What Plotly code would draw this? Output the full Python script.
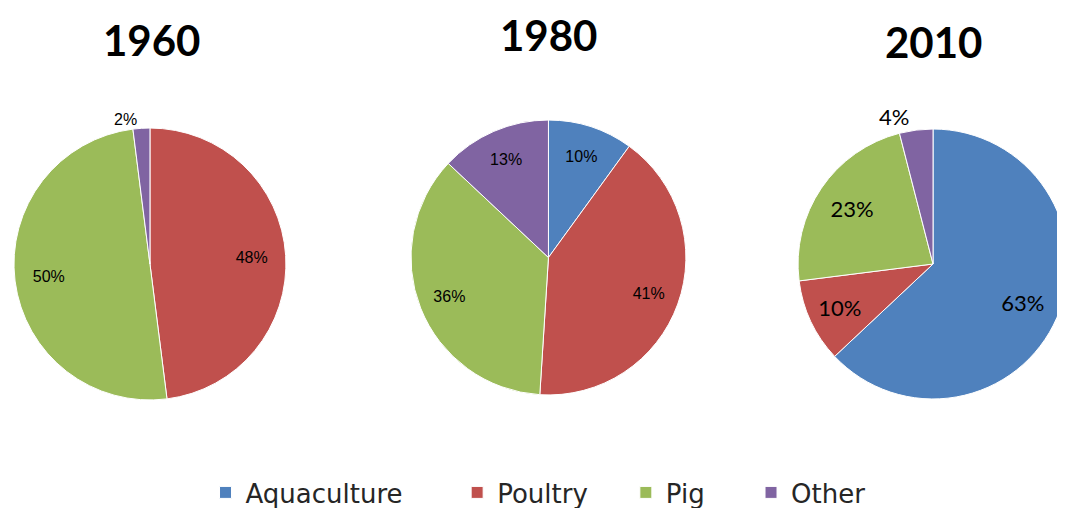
import plotly.graph_objects as go

categories = ["Aquaculture", "Poultry", "Pig", "Other"]
years = ["1960", "1980", "2010"]
values_1960 = [0, 48, 50, 2]
values_1980 = [10, 41, 36, 13]
values_2010 = [63, 10, 23, 4]

colors = ["#4F81BD", "#C0504D", "#9BBB59", "#8064A2"]

# the page body has an 8px margin; the figure keeps the full window size
# (the excess falls outside the photographed window, like the clipped 2010 pie)
W, H = 1065, 508
OFF = 8  # screen = figure + OFF

def px_dom(left, right, top, bottom):
    """domain from a screen-pixel box"""
    l, r, t, b = left - OFF, right - OFF, top - OFF, bottom - OFF
    return dict(x=[max(0, l / W), min(1, r / W)],
                y=[max(0, 1 - b / H), min(1, 1 - t / H)])

# legend spacing (non-breaking spaces pad the gap after each entry)
legend_pad = [6, 4, 5, 0]
legend_labels = [c + "\u00a0" * p for c, p in zip(categories, legend_pad)]

specs = [
    # values, domain, outside flags, label font, hole used for label ring
    (values_1960, px_dom(10, 284, 128, 400), [False, False, False, True],
     dict(family="Liberation Sans, Arial", size=16, color="#000000"), 0.5),
    (values_1980, px_dom(410, 687, 119, 396), [False, False, False, False],
     dict(family="Liberation Sans, Arial", size=16, color="#000000"), 0.55),
    (values_2010, px_dom(800, 1072, 128, 400), [False, False, False, True],
     dict(family="Lato", size=22, color="#000000"), 0.45),
]

fig = go.Figure()

for i, (vals, dom, outside, tfont, hole) in enumerate(specs):
    pct = ["" if v == 0 else f"{v}%" for v in vals]
    # base pie: coloured slices and outside labels
    fig.add_trace(go.Pie(
        labels=legend_labels,
        values=vals,
        sort=False,
        direction="clockwise",
        rotation=0,
        domain=dom,
        marker=dict(colors=colors, line=dict(color="#FFFFFF", width=1)),
        text=[t if o else "" for t, o in zip(pct, outside)],
        textinfo="text",
        textposition=["outside" if o else "none" for o in outside],
        textfont=tfont,
        hoverinfo="label+percent",
        showlegend=(i == 0),
        name=years[i],
    ))
    # transparent ring on top: places the inside labels further out
    fig.add_trace(go.Pie(
        labels=legend_labels,
        values=vals,
        sort=False,
        direction="clockwise",
        rotation=0,
        hole=hole,
        domain=dom,
        marker=dict(colors=["rgba(0,0,0,0)"] * 4, line=dict(width=0)),
        text=["" if o else t for t, o in zip(pct, outside)],
        textinfo="text",
        textposition=["none" if o else "inside" for o in outside],
        insidetextorientation="horizontal",
        textfont=tfont,
        hoverinfo="skip",
        showlegend=False,
        name=years[i] + " labels",
    ))

# title centres in screen pixels (None: pinned to the top edge)
title_pos = [(148.5, 42), (548.5, None), (936.5, 44)]
for yr, (x, y) in zip(years, title_pos):
    if y is None:
        ypos, yanc = 1.0, "top"
    else:
        ypos, yanc = 1 - (y - OFF - 2) / H, "middle"
    fig.add_annotation(text=f"<b>{yr}</b>", x=(x - OFF) / W, y=ypos,
                       xref="paper", yref="paper",
                       showarrow=False, xanchor="center", yanchor=yanc,
                       font=dict(family="Lato", size=42, color="#000000"))

fig.update_layout(
    width=W, height=H,
    margin=dict(l=0, r=0, t=0, b=0),
    paper_bgcolor="#FFFFFF",
    plot_bgcolor="#FFFFFF",
    legend=dict(orientation="h", x=(538 - OFF) / W, xanchor="center",
                y=0, yanchor="bottom",
                font=dict(family="DejaVu Sans", size=26, color="#262626"),
                traceorder="normal", itemclick=False),
)

fig.write_html("out.html")
